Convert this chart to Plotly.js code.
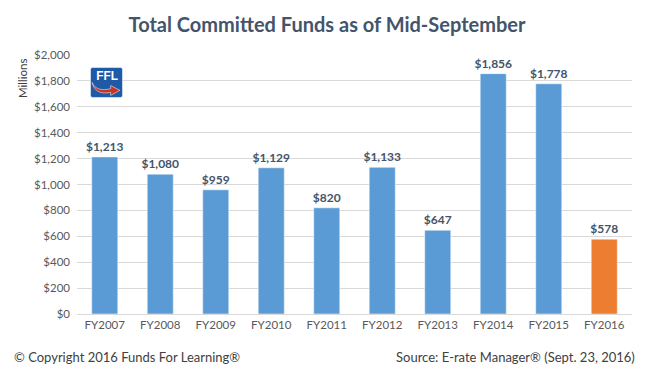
<!DOCTYPE html>
<html>
<head>
<meta charset="utf-8">
<script src="https://cdn.plot.ly/plotly-3.0.1.min.js"></script>
<style>html,body{margin:0;padding:0;background:#fff;}#chart{width:654px;height:380px;}</style>
</head>
<body>
<div id="chart"></div>
<script>
const categories = ["FY2007","FY2008","FY2009","FY2010","FY2011","FY2012","FY2013","FY2014","FY2015","FY2016"];
const values = [1213, 1080, 959, 1129, 820, 1133, 647, 1856, 1778, 578];
const barColors = ["#5b9bd5","#5b9bd5","#5b9bd5","#5b9bd5","#5b9bd5","#5b9bd5","#5b9bd5","#5b9bd5","#5b9bd5","#ed7d31"];
const yTicks = [0,200,400,600,800,1000,1200,1400,1600,1800,2000];
const yTickText = ["$0","$200","$400","$600","$800","$1,000","$1,200","$1,400","$1,600","$1,800","$2,000"];

const FONT = "Lato, 'Open Sans', sans-serif";

const logoSvg = '<svg xmlns="http://www.w3.org/2000/svg" width="64" height="60" viewBox="0 0 64 60">' +
  '<rect x="1" y="1" width="62" height="58" rx="4" fill="#1e5aa8" stroke="#ffffff" stroke-width="1"/>' +
  '<text x="33" y="25" font-family="Arial,sans-serif" font-weight="bold" font-size="23" fill="#ffffff" text-anchor="middle">FFL</text>' +
  '<path d="M4 30 C10 44 24 46 40 42 L40 36 L58 45 L40 55 L40 49 C22 53 8 48 4 30 Z" fill="#c8341f" stroke="#ffffff" stroke-width="1"/>' +
  '</svg>';
const logoUri = 'data:image/svg+xml;base64,' + btoa(logoSvg);

const trace = {
  type: 'bar',
  x: categories,
  y: values,
  marker: {color: barColors, line: {color: 'rgba(255,255,255,0.5)', width: 1}},
  texttemplate: '$%{y:,}',
  textposition: 'outside',
  constraintext: 'none',
  textfont: {family: FONT, size: 12, color: '#44546a', weight: 'bold'},
  cliponaxis: false,
  hoverinfo: 'none'
};

const layout = {
  width: 654, height: 380,
  margin: {l: 77, r: 22, t: 55, b: 66},
  paper_bgcolor: '#ffffff', plot_bgcolor: '#ffffff',
  bargap: 0.53,
  showlegend: false,
  uniformtext: {mode: false},
  title: {text: 'Total Committed Funds as of Mid-September', x: 0.5, xref: 'container', xanchor: 'center', y: 0.935, yanchor: 'middle',
          font: {family: FONT, size: 20, color: '#44546a', weight: 'bold'}},
  xaxis: {
    showgrid: false, zeroline: false, showline: true, linecolor: '#d9d9d9', linewidth: 1,
    ticks: '', tickfont: {family: FONT, size: 11.5, color: '#595959'}, ticklen: 0
  },
  yaxis: {
    range: [0, 2000], tickmode: 'array', tickvals: yTicks, ticktext: yTickText,
    showgrid: true, gridcolor: '#d9d9d9', gridwidth: 1, zeroline: false, showline: false,
    tickfont: {family: FONT, size: 11.5, color: '#595959'}, ticks: '', ticklabelstandoff: 6
  },
  annotations: [
    {text: 'Millions', textangle: -90, xref: 'paper', yref: 'paper', x: (22-77)/555, y: (314-79)/259,
     xanchor: 'center', yanchor: 'middle', showarrow: false, font: {family: FONT, size: 11.5, color: '#404040'}},
    {text: '© Copyright 2016 Funds For Learning®', xref: 'paper', yref: 'paper', x: (12-77)/555, y: (314-357)/259,
     xanchor: 'left', yanchor: 'middle', showarrow: false, font: {family: FONT, size: 13, color: '#404040'}},
    {text: 'Source: E-rate Manager® (Sept. 23, 2016)', xref: 'paper', yref: 'paper', x: (637-77)/555, y: (314-357)/259,
     xanchor: 'right', yanchor: 'middle', showarrow: false, font: {family: FONT, size: 13, color: '#404040'}}
  ],
  images: [
    {source: logoUri, xref: 'paper', yref: 'paper', x: (90-77)/555, y: (314-67)/259,
     sizex: 33/555, sizey: 31/259, xanchor: 'left', yanchor: 'top', sizing: 'stretch', layer: 'above'}
  ]
};

Plotly.newPlot('chart', [trace], layout, {staticPlot: true, displayModeBar: false});
</script>
</body>
</html>
